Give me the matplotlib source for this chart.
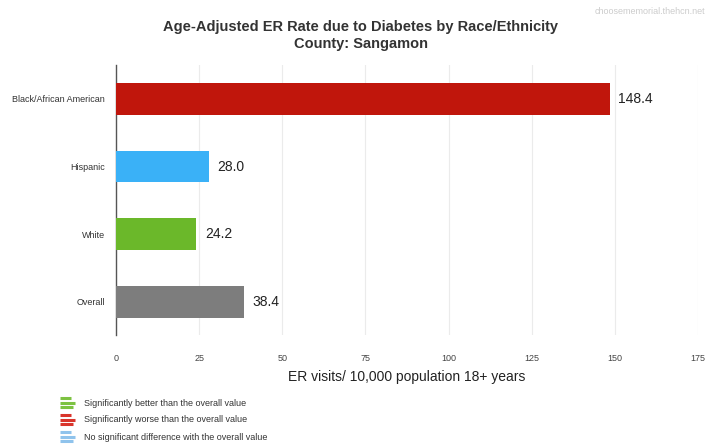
import matplotlib
matplotlib.use("Agg")
import matplotlib.pyplot as plt
from matplotlib.lines import Line2D

plt.rcParams['font.family'] = ['Liberation Sans', 'DejaVu Sans']

categories = ["Black/African American", "Hispanic", "White", "Overall"]
values = [148.4, 28.0, 24.2, 38.4]
bar_colors = ["#C0160C", "#3AB1F7", "#6BB82A", "#7D7D7D"]
xticks = [0, 25, 50, 75, 100, 125, 150, 175]
legend_labels = ["Significantly better than the overall value",
                 "Significantly worse than the overall value",
                 "No significant difference with the overall value"]
legend_colors = ["#7DC242", "#D9342B", "#8FC3EC"]

W, H = 707, 447
fig = plt.figure(figsize=(W / 100, H / 100), dpi=100)
ax = fig.add_axes([116 / W, 1 - 335 / H, 582 / W, 270 / H])

y = list(range(len(categories)))
ax.barh(y, values, height=0.47, color=bar_colors, zorder=3)
for yi, v in zip(y, values):
    ax.text(v + 2.5, yi, f"{v:.1f}", va="center", ha="left", fontsize=10, color="#222222")

ax.set_yticks(y)
ax.set_yticklabels(categories, fontsize=6.5, color="#333333")
ax.set_ylim(3.49, -0.5)
ax.set_xlim(0, 175)
ax.set_xticks(xticks)
ax.set_xticklabels([str(t) for t in xticks], fontsize=6.5, color="#444444")
ax.tick_params(axis="both", length=0)
ax.tick_params(axis="x", pad=13.5)
ax.tick_params(axis="y", pad=8)
ax.grid(axis="x", color="#ebebeb", linewidth=0.8, zorder=0)
for s in ["top", "right", "bottom"]:
    ax.spines[s].set_visible(False)
ax.spines["left"].set_color("#555555")
ax.spines["left"].set_linewidth(1.0)

ax.set_xlabel("ER visits/ 10,000 population 18+ years", fontsize=10, color="#222222", labelpad=5)

fig.text(0.51, 0.955, "Age-Adjusted ER Rate due to Diabetes by Race/Ethnicity\nCounty: Sangamon",
         ha="center", va="top", fontsize=10.5, fontweight="bold", color="#333333", linespacing=1.25)
fig.text(0.997, 0.985, "choosememorial.thehcn.net", ha="right", va="top", fontsize=6.5, color="#cccccc")

# legend icons
rows_px = [403, 420, 437]
for ypx, lab, col in zip(rows_px, legend_labels, legend_colors):
    for k, ln in enumerate([11, 15, 13]):
        yl = 1 - (ypx - 5 + k * 4.5) / H
        fig.add_artist(Line2D([60 / W, (60 + ln) / W], [yl, yl], color=col, linewidth=2.2,
                              transform=fig.transFigure, solid_capstyle="butt"))
    fig.text(84 / W, 1 - ypx / H, lab, ha="left", va="center", fontsize=6.5, color="#333333")

fig.savefig("out.png", dpi=100)
